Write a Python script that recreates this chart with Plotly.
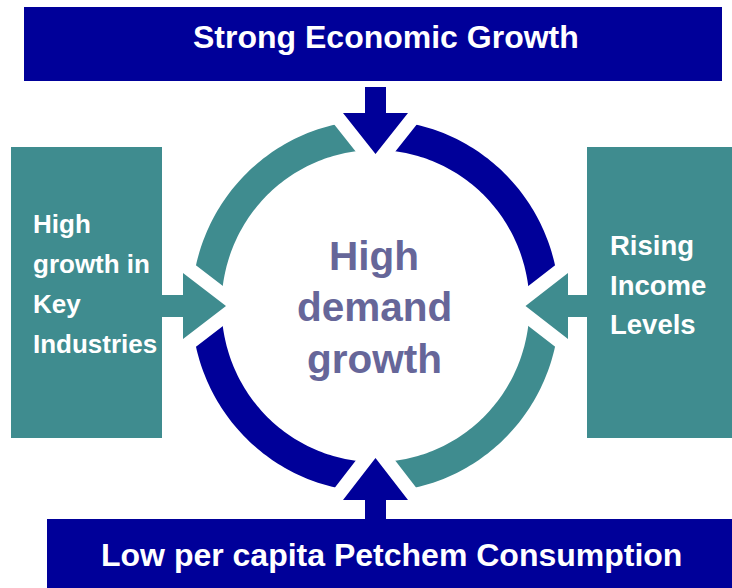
import numpy as np
import plotly.graph_objects as go

# ---- content ----
top_label = ["Strong Economic Growth"]
bottom_label = ["Low per capita Petchem Consumption"]
left_lines = ["High", "growth in", "Key", "Industries"]
right_lines = ["Rising", "Income", "Levels"]
center_lines = ["High", "demand", "growth"]
ring_colors = ["#3f8c8f", "#000099", "#3f8c8f", "#000099"]  # TL, TR, BR, BL

NAVY = "#000099"
TEAL = "#3f8c8f"
PURPLE = "#666699"
W, H = 732, 588
FONT = "Liberation Sans, Arial, sans-serif"

cx, cy = 375.5, 306
rxo, ryo = 184, 186
rxi, ryi = 154, 156

shapes = []

def sector(a0, a1, color):
    t = np.linspace(np.radians(a0), np.radians(a1), 80)
    xo = cx + rxo * np.cos(t); yo = cy - ryo * np.sin(t)
    xi = cx + rxi * np.cos(t[::-1]); yi = cy - ryi * np.sin(t[::-1])
    pts = list(zip(xo, yo)) + list(zip(xi, yi))
    path = "M " + " L ".join(f"{x:.2f},{y:.2f}" for x, y in pts) + " Z"
    return dict(type="path", path=path, fillcolor=color, line=dict(width=0), layer="above")

quads = [(90, 180), (0, 90), (-90, 0), (180, 270)]
for (a0, a1), c in zip(quads, ring_colors):
    shapes.append(sector(a0, a1, c))

def poly(pts):
    return "M " + " L ".join(f"{x:.2f},{y:.2f}" for x, y in pts) + " Z"

top_arrow = [(365, 87), (386, 87), (386, 113), (408, 113), (375.5, 154), (343, 113), (365, 113)]
bot_arrow = [(365, 520), (386, 520), (386, 500), (408, 500), (375.5, 458), (343, 500), (365, 500)]
left_arrow = [(160, 295), (160, 317), (183, 317), (183, 339), (226, 306), (183, 273), (183, 295)]
right_arrow = [(590, 295), (590, 317), (568, 317), (568, 339), (525.5, 306), (568, 273), (568, 295)]
arrows = [(top_arrow, NAVY), (bot_arrow, NAVY), (left_arrow, TEAL), (right_arrow, TEAL)]

for pts, c in arrows:
    shapes.append(dict(type="path", path=poly(pts), fillcolor="white",
                       line=dict(color="white", width=28), layer="above"))

boxes = [
    (24, 7, 722, 81, NAVY),
    (47, 519, 745, 595, NAVY),
    (11, 147, 162, 438, TEAL),
    (587, 147, 745, 438, TEAL),
]
for x0, y0, x1, y1, c in boxes:
    shapes.append(dict(type="rect", x0=x0, y0=y0, x1=x1, y1=y1, fillcolor=c,
                       line=dict(width=0), layer="above"))

for pts, c in arrows:
    shapes.append(dict(type="path", path=poly(pts), fillcolor=c,
                       line=dict(width=0), layer="above"))

annotations = []

def txt(x, y, s, size, color, xanchor="center"):
    annotations.append(dict(x=x, y=y, text=s, showarrow=False, xref="x", yref="y",
                            xanchor=xanchor, yanchor="middle",
                            font=dict(family=FONT, size=size, color=color)))

txt(385.5, 37, f"<b>{top_label[0]}</b>", 32, "white")
txt(391, 555, f"<b>{bottom_label[0]}</b>", 32, "white")

for i, s in enumerate(left_lines):
    base = 232.7 + 40 * i
    txt(31, base - 9, f"<b>{s}</b>", 26, "white", xanchor="left")
for i, s in enumerate(right_lines):
    base = 255 + 39.5 * i
    txt(608, base - 9.5, f"<b>{s}</b>", 27.5, "white", xanchor="left")
for i, s in enumerate(center_lines):
    base = 270 + 51.7 * i
    txt(374, base - 14.5, f"<b>{s}</b>", 40.5, PURPLE)

fig = go.Figure()
fig.add_trace(go.Scatter(x=[0, W], y=[0, H], mode="markers", marker=dict(opacity=0),
                         hoverinfo="skip", showlegend=False))
fig.update_layout(
    width=W, height=H, margin=dict(l=0, r=0, t=0, b=0),
    paper_bgcolor="white", plot_bgcolor="white",
    xaxis=dict(range=[0, W], visible=False, fixedrange=True),
    yaxis=dict(range=[H, 0], visible=False, fixedrange=True),
    shapes=shapes, annotations=annotations, showlegend=False,
)
fig.write_html("out.html", config={"displayModeBar": False},
               post_script="document.body.style.margin='0';document.body.style.overflow='hidden';")
